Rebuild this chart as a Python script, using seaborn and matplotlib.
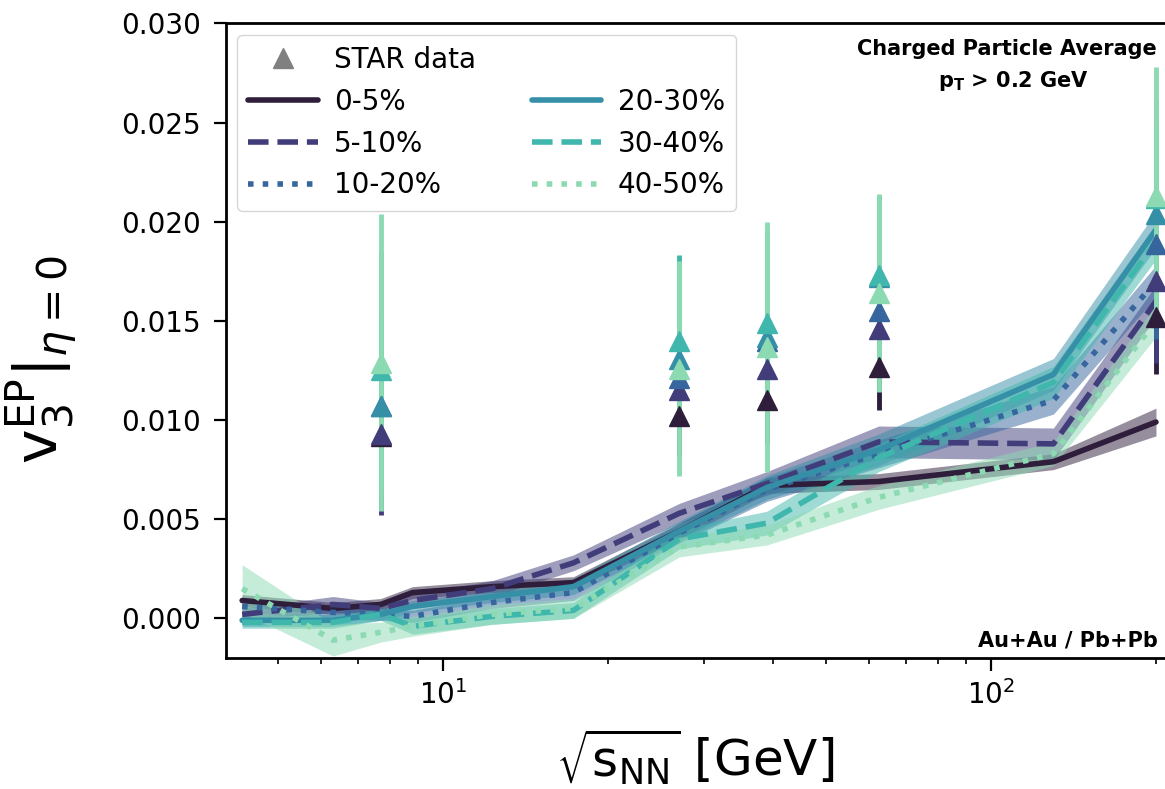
import numpy as np
import pandas as pd
import matplotlib
matplotlib.use("Agg")
import matplotlib.pyplot as plt
import seaborn as sns
from matplotlib.lines import Line2D
from matplotlib.ticker import FormatStrFormatter

# ---------------- data ----------------
energies = [4.3, 6.3, 7.7, 8.8, 12.3, 17.3, 27.0, 39.0, 62.4, 130.0, 200.0]
centralities = ["0-5%", "5-10%", "10-20%", "20-30%", "30-40%", "40-50%"]

v3_0_5 = [0.0009, 0.0005, 0.0007, 0.0013, 0.0016, 0.0018, 0.0044, 0.0067, 0.0069, 0.0079, 0.0099]
v3_5_10 = [0.0002, 0.0007, 0.0005, 0.0009, 0.0015, 0.0028, 0.0053, 0.0068, 0.0089, 0.0088, 0.0160]
v3_10_20 = [0.0006, 0.0003, 0.0002, 0.0001, 0.0008, 0.0013, 0.0043, 0.0065, 0.0083, 0.0110, 0.0170]
v3_20_30 = [-0.0001, -0.0001, 0.0002, 0.0006, 0.0011, 0.0016, 0.0044, 0.0066, 0.0085, 0.0123, 0.0196]
v3_30_40 = [-0.0002, -0.0002, 0.0002, -0.0004, 0.0001, 0.0004, 0.0040, 0.0048, 0.0081, 0.0119, 0.0190]
v3_40_50 = [0.0015, -0.0011, -0.0007, -0.0004, 0.0002, 0.0005, 0.0036, 0.0042, 0.0061, 0.0083, 0.0150]

err_0_5 = [0.0003, 0.0003, 0.0003, 0.0003, 0.0003, 0.0003, 0.0004, 0.0004, 0.0004, 0.0004, 0.0007]
err_5_10 = [0.0003, 0.0004, 0.0003, 0.0003, 0.0004, 0.0004, 0.0005, 0.0006, 0.0008, 0.0008, 0.0008]
err_10_20 = [0.0003, 0.0003, 0.0003, 0.0003, 0.0003, 0.0004, 0.0005, 0.0006, 0.0007, 0.0007, 0.0008]
err_20_30 = [0.0003, 0.0003, 0.0003, 0.0003, 0.0003, 0.0004, 0.0005, 0.0006, 0.0008, 0.0008, 0.0009]
err_30_40 = [0.0003, 0.0003, 0.0003, 0.0004, 0.0004, 0.0004, 0.0005, 0.0006, 0.0007, 0.0008, 0.0009]
err_40_50 = [0.0012, 0.0008, 0.0005, 0.0005, 0.0005, 0.0005, 0.0005, 0.0005, 0.0006, 0.0006, 0.0008]

star_energies = [7.7, 27.0, 39.0, 62.4, 200.0]
star_0_5 = [0.0092, 0.0102, 0.0110, 0.0127, 0.0152]
star_5_10 = [0.0093, 0.0115, 0.0126, 0.0146, 0.0170]
star_10_20 = [0.0107, 0.0121, 0.0140, 0.0155, 0.0189]
star_20_30 = [0.0107, 0.0131, 0.0142, 0.0172, 0.0204]
star_30_40 = [0.0125, 0.0140, 0.0149, 0.0173, 0.0212]
star_40_50 = [0.0129, 0.0126, 0.0137, 0.0164, 0.0213]

star_err_0_5 = [0.0035, 0.0020, 0.0022, 0.0022, 0.0029]
star_err_5_10 = [0.0041, 0.0025, 0.0025, 0.0025, 0.0041]
star_err_10_20 = [0.0040, 0.0030, 0.0030, 0.0030, 0.0048]
star_err_20_30 = [0.0045, 0.0035, 0.0040, 0.0035, 0.0045]
star_err_30_40 = [0.0060, 0.0043, 0.0045, 0.0040, 0.0050]
star_err_40_50 = [0.0075, 0.0054, 0.0063, 0.0050, 0.0065]

model_vals = [v3_0_5, v3_5_10, v3_10_20, v3_20_30, v3_30_40, v3_40_50]
model_errs = [err_0_5, err_5_10, err_10_20, err_20_30, err_30_40, err_40_50]
star_vals = [star_0_5, star_5_10, star_10_20, star_20_30, star_30_40, star_40_50]
star_errs = [star_err_0_5, star_err_5_10, star_err_10_20, star_err_20_30, star_err_30_40, star_err_40_50]

rows = []
for c, vals, errs in zip(centralities, model_vals, model_errs):
    for e, v, er in zip(energies, vals, errs):
        rows.append({"centrality": c, "energy": e, "v3": v, "err": er})
df = pd.DataFrame(rows)

# ---------------- style ----------------
sns.set_style("ticks")
plt.rcParams["font.family"] = ["DejaVu Sans"]
plt.rcParams["mathtext.fontset"] = "dejavusans"
plt.rcParams["mathtext.default"] = "regular"
for k in ["text.color", "axes.labelcolor", "xtick.color", "ytick.color", "axes.edgecolor"]:
    plt.rcParams[k] = "black"
palette = sns.color_palette("mako", 6)
linestyles = ["-", "--", ":", "-", "--", ":"]

W, H = 1165, 789
fig = plt.figure(figsize=(W / 100, H / 100), dpi=100)
ax = fig.add_axes([226 / W, 1 - 658 / H, 1 - 226 / W, (658 - 23.5) / H])
ax.set_xscale("log")

for i, c in enumerate(centralities):
    sub = df[df["centrality"] == c]
    ax.fill_between(sub["energy"], sub["v3"] - sub["err"], sub["v3"] + sub["err"],
                    color=palette[i], alpha=0.5, lw=0, zorder=1)
    sns.lineplot(data=sub, x="energy", y="v3", ax=ax, color=palette[i], lw=4,
                 linestyle=linestyles[i], legend=False, zorder=2)

for i, c in enumerate(centralities):
    ax.errorbar(star_energies, star_vals[i], yerr=star_errs[i], fmt="none",
                ecolor=palette[i], elinewidth=3.5, capsize=0, zorder=3)
for i, c in enumerate(centralities):
    ax.plot(star_energies, star_vals[i], ls="none", marker="^", ms=15,
            color=palette[i], zorder=4)

ax.set_xlim(10 ** (1 + (226 - 443) / 548), 10 ** (1 + (1165 - 443) / 548))
ax.set_ylim(-0.002, 0.030)
ax.set_yticks(np.arange(0, 0.0301, 0.005))
ax.yaxis.set_major_formatter(FormatStrFormatter("%.3f"))

for s in ["left", "bottom", "top"]:
    ax.spines[s].set_linewidth(2)
    ax.spines[s].set_color("black")
ax.spines["right"].set_visible(False)
ax.tick_params(which="major", length=9, width=1.6, labelsize=20, color="black", labelcolor="black")
ax.tick_params(axis="y", which="major", pad=9)
ax.tick_params(axis="x", which="major", pad=7)
ax.tick_params(which="minor", length=4.5, width=1.2, color="black")
ax.tick_params(axis="y", which="minor", length=0)

ax.set_xlabel(r"$\sqrt{s_{NN}}$ [GeV]", fontsize=36, color="black")
ax.set_ylabel(r"$v_3^{EP}|_{\mathit{\eta}=0}$", fontsize=42, color="black")
ax.xaxis.set_label_coords(0.5, -0.108)
ax.yaxis.set_label_coords(-0.155, 0.47)

# legend
handles = [Line2D([], [], marker="^", color="gray", ls="none", ms=15)]
labels = ["STAR data"]
for i in range(3):
    handles.append(Line2D([], [], color=palette[i], lw=4, ls=linestyles[i]))
    labels.append(centralities[i])
handles.append(Line2D([], [], ls="none"))
labels.append("")
for i in range(3, 6):
    handles.append(Line2D([], [], color=palette[i], lw=4, ls=linestyles[i]))
    labels.append(centralities[i])
leg = ax.legend(handles, labels, ncol=2, loc="upper left", fontsize=20, handlelength=2.5,
                frameon=True, fancybox=True, framealpha=0.8, edgecolor="0.8",
                borderaxespad=0.4, columnspacing=2.0, handletextpad=0.6)
for t in leg.get_texts():
    t.set_color("black")

fig.text(1157 / W, 1 - 55 / H, "Charged Particle Average", ha="right", va="baseline",
         fontsize=15, fontweight="bold", color="black")
fig.text(1013 / W, 1 - 87 / H, r"$\mathbf{p_T}$ > 0.2 GeV", ha="center", va="baseline",
         fontsize=15, fontweight="bold", color="black")
fig.text(1158 / W, 1 - 646 / H, "Au+Au / Pb+Pb", ha="right", va="baseline",
         fontsize=15, fontweight="bold", color="black")

fig.savefig("out.png", dpi=100)
